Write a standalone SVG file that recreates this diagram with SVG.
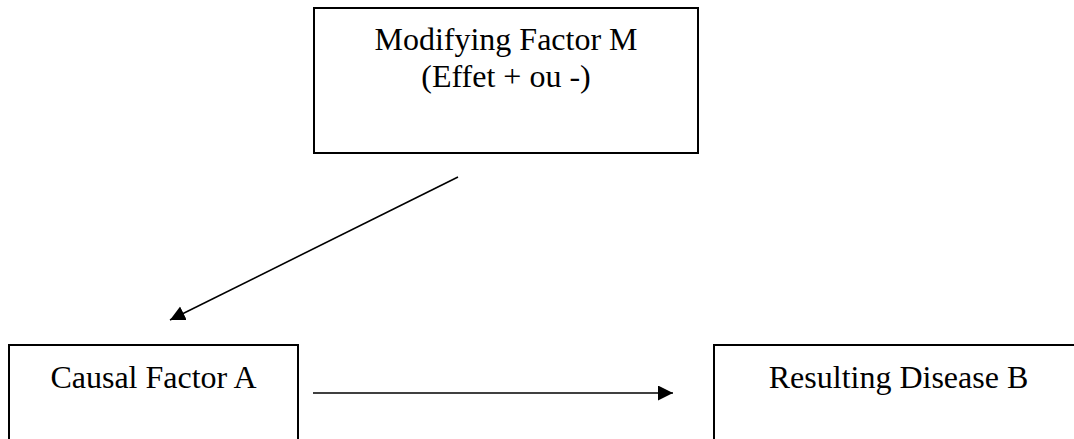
<svg xmlns="http://www.w3.org/2000/svg" width="1074" height="439" viewBox="0 0 1074 439">
<style>
.box{fill:#fff;stroke:#000;stroke-width:2}
.lbl{font-family:"Liberation Serif","Times New Roman",serif;font-size:32px;fill:#000;text-anchor:middle}
.edge{stroke:#000;stroke-width:1.6;fill:none}
</style>
<defs>
<marker id="ah" markerUnits="userSpaceOnUse" markerWidth="16" markerHeight="16" refX="15" refY="7.5" orient="auto">
<path d="M0,0 L15,7.5 L0,15 Z" fill="#000"/>
</marker>
</defs>
<rect width="1074" height="439" fill="#fff"/>
<g id="node-M">
<rect class="box" x="314" y="8" width="384" height="145"/>
<text class="lbl" x="506" y="50">Modifying Factor M</text>
<text class="lbl" x="506" y="87">(Effet + ou -)</text>
</g>
<g id="node-A">
<rect class="box" x="9" y="345" width="289" height="120"/>
<text class="lbl" x="153.5" y="388">Causal Factor A</text>
</g>
<g id="node-B">
<rect class="box" x="714" y="345" width="369" height="120"/>
<text class="lbl" x="898.5" y="388">Resulting Disease B</text>
</g>
<g id="connectors">
<line class="edge" x1="458" y1="177" x2="170" y2="320" marker-end="url(#ah)"/>
<line class="edge" x1="313" y1="393" x2="673" y2="393" marker-end="url(#ah)"/>
</g>
</svg>
